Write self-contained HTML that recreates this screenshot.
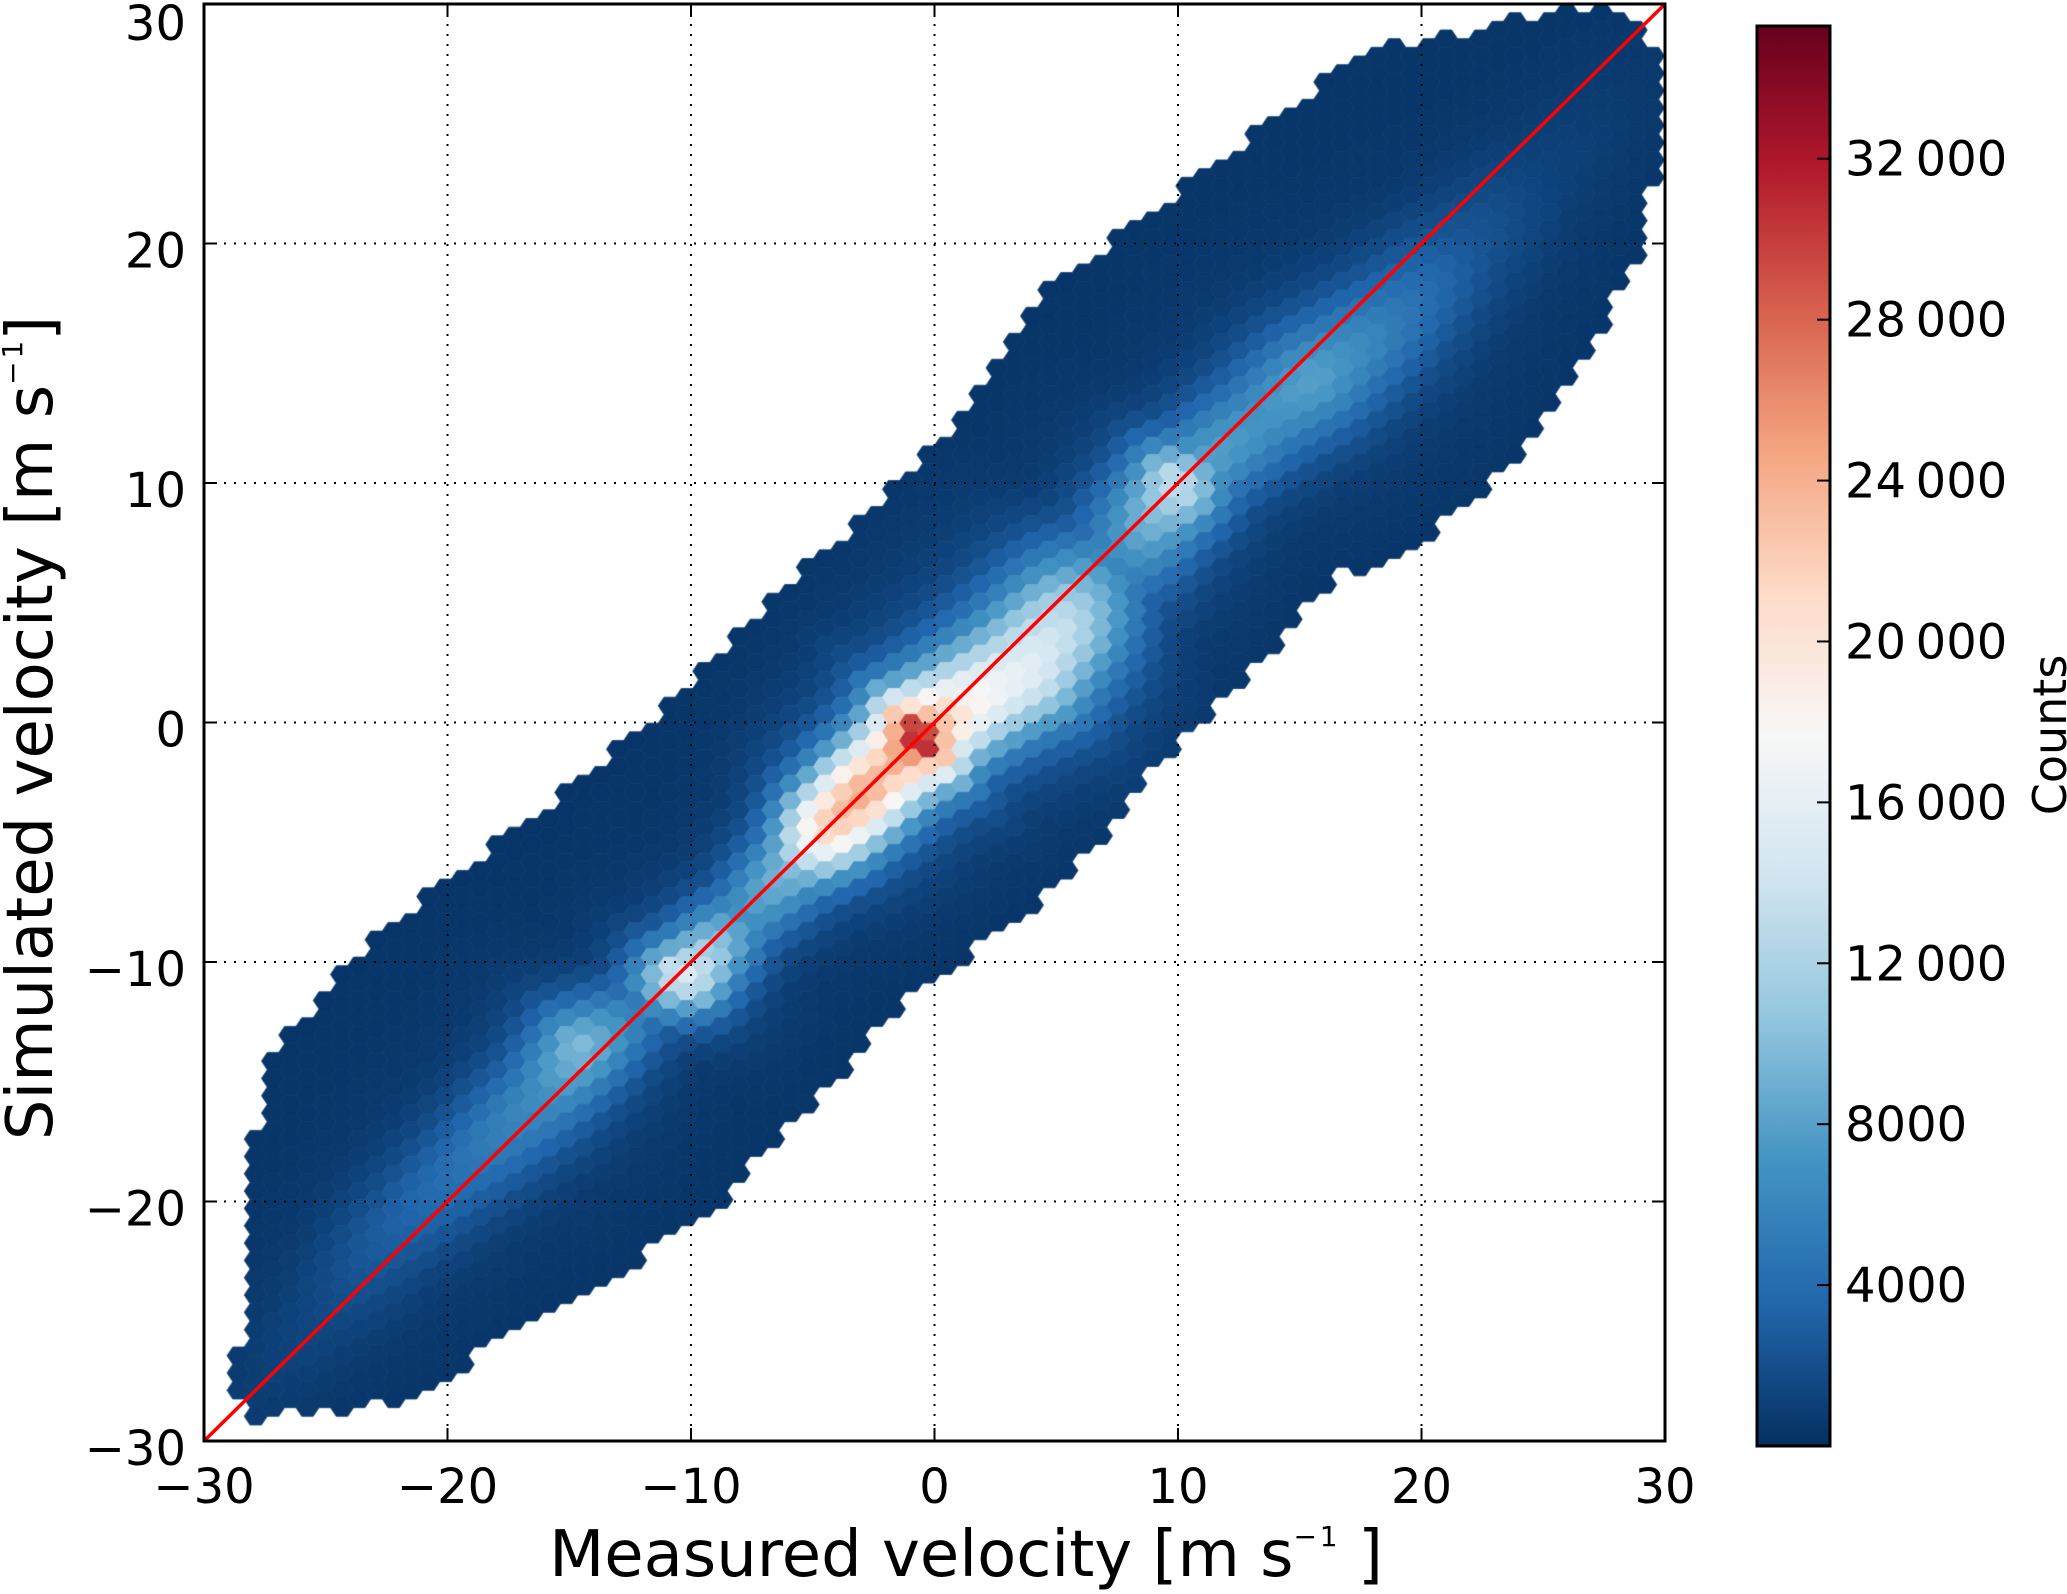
<!DOCTYPE html>
<html><head><meta charset="utf-8"><style>
html,body{margin:0;padding:0;background:#fff;}
#wrap{position:relative;width:2067px;height:1594px;overflow:hidden;}
canvas,svg{position:absolute;left:0;top:0;}
text{font-family:"DejaVu Sans","Liberation Sans",sans-serif;fill:#000;}
</style></head><body>
<div id="wrap">
<canvas id="hex" width="2067" height="1594"></canvas>
<svg id="svg" width="2067" height="1594"></svg>
</div>
<script>
// ---- data (s = (x+y)/2 along diagonal, d = y - x offset) ----
const edgeS   = [-28.5,-27,-25,-21,-18,-15,-12,-9,-6,-1,4,8,11,14,17,20,22,24,26,27.5,29];
const edgeLo  = [-1,-3.5,-6.5,-8.5,-10,-11.3,-11,-10.7,-10.6,-12,-11,-11,-10.3,-12.5,-13,-12,-11,-9.5,-7,-5,-2];
const edgeHi  = [1,3,7,13,14,14,13,12.3,11.8,12,11.5,12,13.5,12.7,12,11,11,9,6,4.5,2];
const ridgeS    = [-28,-25,-22,-19,-16,-14,-12,-10.5,-8,-6,-4.5,-3,-2,-1.2,-0.6,0,1,2,3,5,7,9,10,11,13,15,18,21,24,28];
const ridgePeak = [800,1500,3000,4500,6500,10000,5000,15500,7000,10000,22000,24500,23000,26000,34000,24000,19000,17000,16000,13000,6000,10500,14000,8000,7000,8000,5000,2500,1200,600];
const ridgeS2     = [-28,-22,-16,-14,-10,-5,0,3,6,10,14,18,24];
const ridgeOffset = [0,1,0.5,1,-0.5,0,0,-1.5,-1,0,-1,-2,-2];
const ridgeWidth  = [3,3,3,2.8,2.4,2.6,3,3.8,3.8,2.8,3.4,3.4,3.4];
const xTicks = [-30,-20,-10,0,10,20,30];
const yTicks = [-30,-20,-10,0,10,20,30];
const cbTicks = [4000,8000,12000,16000,20000,24000,28000,32000];
const cbLabels = ["4000","8000","12\u2009000","16\u2009000","20\u2009000","24\u2009000","28\u2009000","32\u2009000"];
const vmin = 0, vmax = 35300;

// ---- geometry ----
const PL=204, PR=1665, PT=4, PB=1441;
const X = v => PL + (v+30)/60*(PR-PL);
const Y = v => PB - (v+30)/60*(PB-PT);
const IX = p => (p-PL)/(PR-PL)*60-30;
const IY = p => (PB-p)/(PB-PT)*60-30;
const CBL=1757, CBR=1830, CBT=26, CBB=1446;
const CBY = v => CBB - (v-vmin)/(vmax-vmin)*(CBB-CBT);

function lerp(xs, ys, x){
  if(x<=xs[0]) return ys[0];
  if(x>=xs[xs.length-1]) return ys[ys.length-1];
  for(let i=1;i<xs.length;i++){ if(x<=xs[i]){const t=(x-xs[i-1])/(xs[i]-xs[i-1]);return ys[i-1]+t*(ys[i]-ys[i-1]);} }
}
const stops=[[0,[5,48,97]],[0.1,[33,102,172]],[0.2,[67,147,195]],[0.3,[146,197,222]],[0.4,[209,229,240]],[0.5,[247,247,247]],[0.6,[253,219,199]],[0.7,[244,165,130]],[0.8,[214,96,77]],[0.9,[178,24,43]],[1,[103,0,31]]];
function cmap(t){
  t=Math.max(0,Math.min(1,t));
  for(let i=1;i<stops.length;i++){ if(t<=stops[i][0]){const a=stops[i-1],b=stops[i];const u=(t-a[0])/(b[0]-a[0]);
    return 'rgb('+a[1].map((c,k)=>Math.round(c+u*(b[1][k]-c))).join(',')+')';}}
  return 'rgb(103,0,31)';
}
function countAt(x,y){
  const s=(x+y)/2, d=y-x;
  if(s<edgeS[0]||s>edgeS[edgeS.length-1]) return null;
  const lo=lerp(edgeS,edgeLo,s), hi=lerp(edgeS,edgeHi,s);
  if(d<lo||d>hi) return null;
  const pk=lerp(ridgeS,ridgePeak,s), dc=lerp(ridgeS2,ridgeOffset,s), w=lerp(ridgeS2,ridgeWidth,s);
  const base=350;
  const z=(d-dc)/w, z2=(d-dc)/(w*2.0);
  return base + (pk-base)*(0.85*Math.exp(-z*z)+0.15*Math.exp(-z2*z2));
}

// ---- hexbin ----
const cv=document.getElementById('hex'), ctx=cv.getContext('2d');
ctx.save(); ctx.beginPath(); ctx.rect(PL,PT,PR-PL,PB-PT); ctx.clip();
const R=11.5, H=Math.sqrt(3)*R*0.87, colW=1.5*R;
for(let c=0, cx=PL; cx<PR+R; c++, cx+=colW){
  for(let cy=PT+(c%2?H/2:0); cy<PB+H; cy+=H){
    const v=countAt(IX(cx),IY(cy)); if(v===null) continue;
    ctx.fillStyle=cmap((v-vmin)/(vmax-vmin));
    ctx.beginPath();
    ctx.moveTo(cx-R,cy); ctx.lineTo(cx-R/2,cy-H/2); ctx.lineTo(cx+R/2,cy-H/2);
    ctx.lineTo(cx+R,cy); ctx.lineTo(cx+R/2,cy+H/2); ctx.lineTo(cx-R/2,cy+H/2); ctx.closePath();
    ctx.fill(); ctx.strokeStyle=ctx.fillStyle; ctx.lineWidth=0.8; ctx.stroke();
  }
}
ctx.restore();

// ---- SVG overlay ----
const NS='http://www.w3.org/2000/svg', svg=document.getElementById('svg');
function el(tag,attrs,parent){const e=document.createElementNS(NS,tag);for(const k in attrs)e.setAttribute(k,attrs[k]);(parent||svg).appendChild(e);return e;}

// grid
xTicks.forEach(t=>{ if(t>-30&&t<30){
  const g=el('line',{x1:X(t),x2:X(t),y1:PT,y2:PB,stroke:'#000','stroke-width':2,'stroke-dasharray':'2,8'});
    }});
yTicks.forEach(t=>{ if(t>-30&&t<30){
  const g=el('line',{x1:PL,x2:PR,y1:Y(t),y2:Y(t),stroke:'#000','stroke-width':2,'stroke-dasharray':'2,8'});
    }});

// 1:1 line
const ol=el('line',{x1:X(-30),y1:Y(-30),x2:X(30),y2:Y(30),stroke:'#ff0000','stroke-width':3.5});
 

// frame
const fr=el('rect',{x:PL,y:PT,width:PR-PL,height:PB-PT,fill:'none',stroke:'#000','stroke-width':3});
 

// ticks + labels
xTicks.forEach(t=>{
  el('line',{x1:X(t),x2:X(t),y1:PB,y2:PB-13,stroke:'#000','stroke-width':2});
  el('line',{x1:X(t),x2:X(t),y1:PT,y2:PT+13,stroke:'#000','stroke-width':2});
  const tx=el('text',{x:X(t),y:1503,'text-anchor':'middle','font-size':48});
  tx.textContent=(t<0?'\u2212':'')+Math.abs(t);
   
});
yTicks.forEach(t=>{
  el('line',{x1:PL,x2:PL+13,y1:Y(t),y2:Y(t),stroke:'#000','stroke-width':2});
  el('line',{x1:PR,x2:PR-13,y1:Y(t),y2:Y(t),stroke:'#000','stroke-width':2});
  const tx=el('text',{x:186,y:Math.max(Y(t)+24,40),'text-anchor':'end','font-size':48});
  tx.textContent=(t<0?'\u2212':'')+Math.abs(t);
   
});

// axis titles
const xt=el('text',{x:966,y:1576,'text-anchor':'middle','font-size':64});
xt.innerHTML='Measured velocity [m s<tspan font-size="28" dy="-30">\u2212\u200a1</tspan><tspan dy="30"> ]</tspan>';
 
const yt=el('text',{x:0,y:0,'text-anchor':'middle','font-size':64,transform:'translate(52,728) rotate(-90)'});
yt.innerHTML='Simulated velocity [m s<tspan font-size="28" dy="-30">\u2212\u200a1</tspan><tspan dy="30">]</tspan>';
 

// colorbar
const defs=el('defs',{});
const lg=el('linearGradient',{id:'cbg',x1:0,y1:1,x2:0,y2:0},defs);
stops.forEach(s=>el('stop',{offset:s[0],'stop-color':'rgb('+s[1].join(',')+')'},lg));
const cb=el('rect',{x:CBL,y:CBT,width:CBR-CBL,height:CBB-CBT,fill:'url(#cbg)',stroke:'#000','stroke-width':3});
 
cbTicks.forEach((v,i)=>{
  el('line',{x1:CBR,x2:CBR-13,y1:CBY(v),y2:CBY(v),stroke:'#000','stroke-width':2});
  const tx=el('text',{x:1845,y:CBY(v)+17,'font-size':48});
  tx.textContent=cbLabels[i];
   
});
const cl=el('text',{x:0,y:0,'text-anchor':'middle','font-size':46,transform:'translate(2066,735) rotate(-90)'});
cl.textContent='Counts';
 
</script>
</body></html>
